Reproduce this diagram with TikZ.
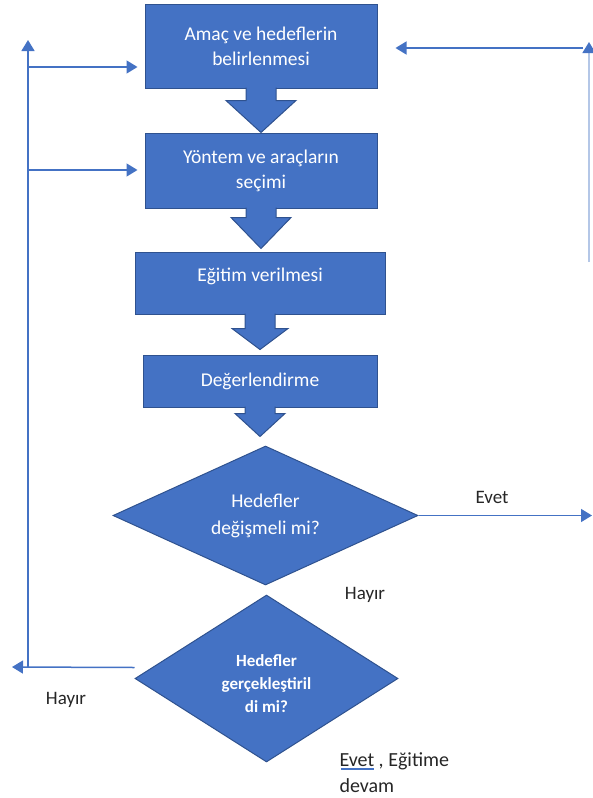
\documentclass[tikz,border=0pt]{standalone}
\usepackage{fontspec}
\setmainfont{Carlito}
\usetikzlibrary{shapes.geometric,calc,arrows.meta}

\definecolor{officeblue}{HTML}{4472C4}
\definecolor{officeedge}{HTML}{2F528F}
\definecolor{fadedblue}{HTML}{B4C7E7}

\tikzset{
    stepbox/.style={draw=officeedge, fill=officeblue, line width=1pt,
        text=white, align=center, inner sep=0pt,
        font=\fontsize{19.5}{25}\selectfont},
    decision/.style={diamond, draw=officeedge, fill=officeblue, line width=1pt,
        text=white, align=center, inner sep=0pt},
    bigarrow/.style={draw=officeedge, fill=officeblue, line width=1pt},
    feedback/.style={draw=officeblue, line width=1.5pt},
    tip/.style={-{Stealth[length=11pt,width=13pt,inset=0pt,color=officeblue]}},
    answer/.style={text=black!85, font=\fontsize{19}{26}\selectfont},
}

% block arrow under a box: node, shaft length, head length, head half width
\newcommand{\blockarrow}[4]{%
    \path ($(#1.south)+(-15,-1)$) coordinate (ba);
    \filldraw[bigarrow] (ba) -- ++(0,#2+1) -- ++(15-#4,0) -- ++(#4,#3)
        -- ++(#4,-#3) -- ++(15-#4,0) -- ++(0,-#2-1);
}

\begin{document}
\begin{tikzpicture}[x=1pt, y=-1pt]
\useasboundingbox (0,0) rectangle (593,798);

% steps
\node [stepbox,
    minimum width=232pt,
    minimum height=84pt
    ] (goal) at (261,46) {Amaç ve hedeflerin\\belirlenmesi};
\node [stepbox,
    minimum width=232pt,
    minimum height=75pt
    ] (method) at (261,170.5) {Yöntem ve araçların\\seçimi};
\node [stepbox,
    minimum width=250pt,
    minimum height=62pt
    ] (train) at (260,283) {\raisebox{7pt}[\height][\depth]{Eğitim verilmesi}};
\node [stepbox,
    minimum width=234pt,
    minimum height=52pt
    ] (eval) at (260,381) {Değerlendirme};

% decisions
\node [decision,
    aspect=2.2,
    minimum width=305pt,
    minimum height=139pt,
    font=\fontsize{19.5}{27}\selectfont
    ] (change) at (265.5,515.5) {Hedefler\\değişmeli mi?};
\node [decision,
    aspect=1.57,
    minimum width=263pt,
    minimum height=167pt,
    font=\fontsize{17}{23}\selectfont\bfseries
    ] (done) at (266.5,678.5) {\raisebox{-6pt}[\height][\depth]{%
        \begin{tabular}{@{}c@{}}Hedefler\\gerçekleştiril\\di mi?\end{tabular}}};

% block arrows between the steps
\blockarrow{goal}{12}{32}{35}
\blockarrow{method}{9}{31}{30}
\blockarrow{train}{14}{21}{28}
\blockarrow{eval}{6}{23}{25}

% loop back on the left
\coordinate (backleft) at (12,667);
\coordinate (loopbottom) at (28,667);
\coordinate (looptop) at (28,40);
\coordinate (loopgoal) at (28,67);
\coordinate (loopmethod) at (28,170);
\draw[feedback, tip] ($(done.west)+(0,-11)$) -- (backleft);
\draw[feedback, tip] (loopbottom) -- (looptop);
\draw[feedback, tip] (loopgoal) -- ([xshift=-7pt]goal.west |- loopgoal);
\draw[feedback, tip] (loopmethod) -- ([xshift=-7pt]method.west |- loopmethod);

% line on the right
\coordinate (rightbottom) at (589,262);
\coordinate (righttop) at (589,42);
\coordinate (rightcorner) at (583,48);
\draw[feedback, draw=fadedblue, tip] (rightbottom) -- (righttop);
\draw[feedback, tip] (rightcorner) -- ([xshift=18pt]goal.east |- rightcorner);

% yes branch of the first decision
\coordinate (evetend) at (592,515.5);
\draw[feedback, tip] (change.east) -- (evetend);

% answers
\node [answer] (evetlbl) at (492,497) {Evet};
\node [answer] (hayirright) at (365,595) {Hayır};
\node [answer] (hayirleft) at (66,700) {Hayır};
\node [answer, anchor=north west, align=left,
    font=\fontsize{20}{26}\selectfont
    ] (devamlbl) at (336,749) {Evet , Eğitime\\devam};
\draw[officeblue, line width=1.2pt]
    ($(devamlbl.north west)+(5,20)$) -- ($(devamlbl.north west)+(38,20)$);
\end{tikzpicture}
\end{document}
